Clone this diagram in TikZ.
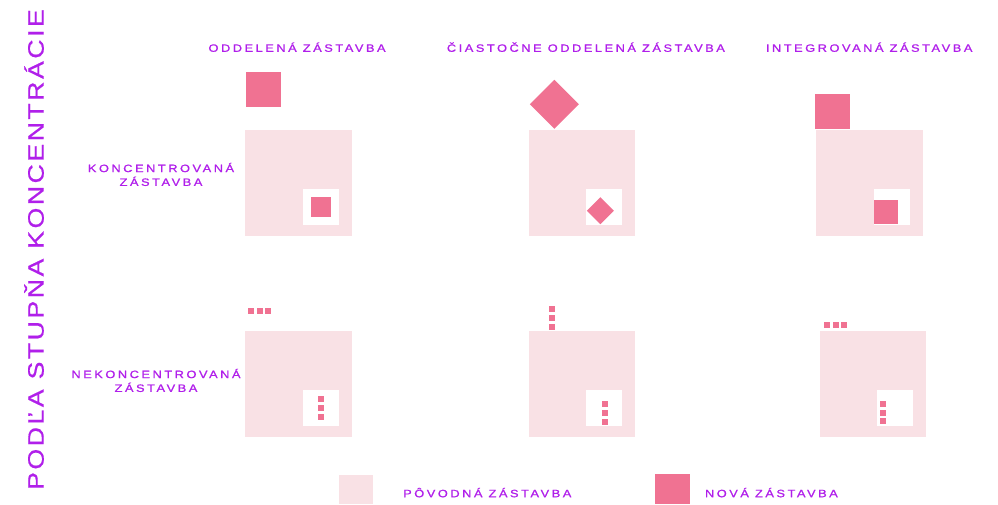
\documentclass[tikz,border=0pt]{standalone}
\usepackage{fontspec}
\newfontfamily\lblfont[LetterSpace=23.5,FakeStretch=1.2,FakeBold=1]{Liberation Sans}
\newfontfamily\sidefont[LetterSpace=11,FakeStretch=1.2,FakeBold=0.6]{Liberation Sans}
\definecolor{purp}{HTML}{B01FEA}
\definecolor{newc}{HTML}{F07292}
\definecolor{oldc}{HTML}{F9E1E5}
\tikzset{
  lbl/.style={text=purp,inner sep=0pt,font=\lblfont\fontsize{10.7}{13.8}\selectfont},
  old/.style={fill=oldc},
  nw/.style={fill=newc},
  hole/.style={fill=white}
}
\begin{document}
\begin{tikzpicture}[x=1pt,y=-1pt]
\useasboundingbox (0,0) rectangle (998,504);
% side title
\node[text=purp,inner sep=0pt,rotate=90,font=\sidefont\fontsize{22.3}{26}\selectfont] (side) at (34,249.5) {PODĽA STUPŇA KONCENTRÁCIE};
% column titles
\node[lbl,anchor=west] (t1) at (208.3,47.2) {ODDELENÁ ZÁSTAVBA};
\node[lbl,anchor=west] (t2) at (446.7,47.2) {ČIASTOČNE ODDELENÁ ZÁSTAVBA};
\node[lbl,anchor=west] (t3) at (765.7,47.2) {INTEGROVANÁ ZÁSTAVBA};
% row labels
\node[lbl,align=center] (r1) at (161,174.4) {KONCENTROVANÁ\\ZÁSTAVBA};
\node[lbl,align=center] (r2) at (156,380.4) {NEKONCENTROVANÁ\\ZÁSTAVBA};
% ---- row 1 ----
% col 1
\fill[nw] (246,72) rectangle (281,107);
\fill[old] (245,129.5) rectangle (352,236);
\fill[hole] (303,189) rectangle (339,224.5);
\fill[nw] (311,196.7) rectangle (331,216.7);
% col 2
\fill[nw,shift={(554.3,104.3)}] (-24.5,0) -- (0,-24.5) -- (24.5,0) -- (0,24.5) -- cycle;
\fill[old] (528.5,129.5) rectangle (635,236);
\fill[hole] (586,189) rectangle (622,224.7);
\fill[nw,shift={(600.3,210.7)}] (-13.5,0) -- (0,-13.5) -- (13.5,0) -- (0,13.5) -- cycle;
% col 3
\fill[old] (816,129.5) rectangle (922.7,236);
\fill[nw] (815,93.7) rectangle (850,129);
\fill[hole] (874,189) rectangle (910,224.7);
\fill[nw] (874,200) rectangle (898,224);
% ---- row 2 ----
% col 1
\foreach \x in {248,256.5,265}{\fill[nw] (\x,307.7) rectangle ++(6,6);}
\fill[old] (245,330.5) rectangle (352,437);
\fill[hole] (303,389.7) rectangle (339,425.7);
\foreach \y in {396,405,414}{\fill[nw] (318,\y) rectangle ++(6.2,6);}
% col 2
\foreach \y in {306,315,324}{\fill[nw] (549,\y) rectangle ++(6,6);}
\fill[old] (528.7,330.7) rectangle (635,437);
\fill[hole] (586,390) rectangle (622,426);
\foreach \y in {401,410,419}{\fill[nw] (602,\y) rectangle ++(6,6);}
% col 3
\foreach \x in {824,833,841}{\fill[nw] (\x,322) rectangle ++(6,6);}
\fill[old] (819.5,330.7) rectangle (926,437);
\fill[hole] (877,390) rectangle (913,426);
\foreach \y in {401,410,418}{\fill[nw] (880,\y) rectangle ++(6,6);}
% ---- legend ----
\fill[old] (339,474.7) rectangle (372.8,504);
\fill[nw] (654.5,473.6) rectangle (689.7,504);
\node[lbl,anchor=west] (l1) at (403,492.6) {PÔVODNÁ ZÁSTAVBA};
\node[lbl,anchor=west] (l2) at (704.8,492.6) {NOVÁ ZÁSTAVBA};
\end{tikzpicture}
\end{document}
